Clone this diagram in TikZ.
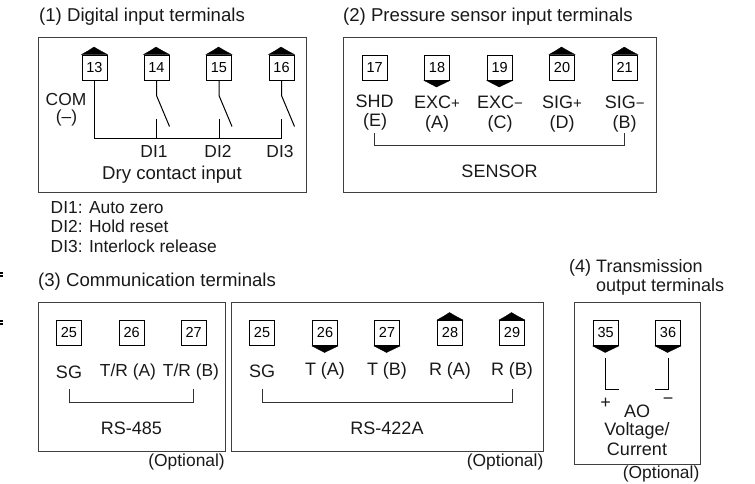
\documentclass[tikz,border=0pt]{standalone}
\usepackage{fontspec}
\setmainfont{Liberation Sans}
\newcommand{\smsign}[1]{{\fontsize{15}{16}\selectfont #1}}
\tikzset{
  frame/.style={draw=black!75,line width=0.9pt,fill=none},
  term/.style={draw=black,line width=1pt,minimum width=25pt,minimum height=25pt,inner sep=0pt,text height=10.5pt,text depth=1pt,font=\fontsize{14.5}{16}\selectfont,fill=white},
  lbl/.style={inner sep=0pt,font=\fontsize{18}{20}\selectfont,text=black!90},
  ttl/.style={lbl,font=\fontsize{18.6}{20}\selectfont},
  note/.style={lbl,font=\fontsize{17.4}{20}\selectfont},
  dilbl/.style={note,text height=13pt,text depth=0pt},
  wire/.style={draw=black,line width=1pt},
  thin wire/.style={draw=black!80,line width=0.8pt},
  edgemark/.style={draw=black,line width=1.4pt},
  arrowcap/.style={fill=black,draw=black,line width=0.3pt}
}
\newcommand{\roofcap}[1]{\fill[arrowcap] (#1.north west) -- ++(7,-4) -- ++(5.5,-3.5) -- ++(6,3.5) -- (#1.north east) -- cycle;}
\newcommand{\dropcap}[1]{\fill[arrowcap] (#1.south west) -- ++(12.5,6.5) -- (#1.south east) -- cycle;}
\begin{document}
\begin{tikzpicture}[x=1pt,y=-1pt]
\useasboundingbox (0,0) rectangle (755,483);
% frames
\node[frame,minimum width=268pt,minimum height=155pt,inner sep=0pt] (b1) at (172,114.5) {};
\node[frame,minimum width=312.5pt,minimum height=155pt,inner sep=0pt] (b2) at (499.75,114.5) {};
\node[frame,minimum width=187pt,minimum height=149.5pt,inner sep=0pt] (b3) at (131.5,376.75) {};
\node[frame,minimum width=312pt,minimum height=149.5pt,inner sep=0pt] (b4) at (387.6,376.75) {};
\node[frame,minimum width=126pt,minimum height=162pt,inner sep=0pt] (b5) at (637,383) {};
% titles
\node[ttl,anchor=west] (t1) at (39,16.5) {(1) Digital input terminals};
\node[ttl,anchor=west] (t2) at (343,16.5) {(2) Pressure sensor input terminals};
\node[ttl,anchor=west] (t3) at (38,282) {(3) Communication terminals};
\node[lbl,anchor=west] (t4a) at (569,268) {(4) Transmission};
\node[lbl,anchor=west] (t4b) at (596,287) {output terminals};
% block 1
\foreach \n/\x in {13/94.5,14/156.5,15/219,16/281.5}{
  \node[term] (T\n) at (\x,67.5) {\n};
  \roofcap{T\n}
}
\node[note] (com) at (66,100) {COM};
\node[note] (comm) at (66.5,118) {(–)};
\coordinate (j1) at (94.5,138);
\coordinate (j2) at (156.5,138);
\coordinate (j3) at (219,138);
\coordinate (j4) at (281.5,138);
\draw[wire] (T13.south) -- (j1) -- (j4);
\foreach \t/\j in {14/j2,15/j3,16/j4}{
  \coordinate (k\t) at ([yshift=-15pt]T\t.south);
  \coordinate (e\t) at ([xshift=13pt,yshift=-46pt]T\t.south);
  \draw[wire] (T\t.south) -- (k\t) -- (e\t);
  \draw[wire] (\j) -- ++(0,-19);
}
\node[dilbl] (d1) at (154,151) {DI1};
\node[dilbl] (d2) at (218,151) {DI2};
\node[dilbl] (d3) at (280,151) {DI3};
\node[ttl] (dry) at (172,175) {Dry contact input};
\node[note,anchor=west] (n1) at (50.5,207.5) {DI1: Auto zero};
\node[note,anchor=west] (n2) at (50.5,226.5) {DI2: Hold reset};
\node[note,anchor=west] (n3) at (50.5,246) {DI3: Interlock release};
% block 2
\node[term] (T17) at (374.7,67.5) {17};
\node[term] (T18) at (437,67.5) {18}; \dropcap{T18}
\node[term] (T19) at (499.7,67.5) {19}; \dropcap{T19}
\node[term] (T20) at (562,67.5) {20}; \roofcap{T20}
\node[term] (T21) at (624.7,67.5) {21}; \roofcap{T21}
\node[lbl] (s1) at (374.7,101.5) {SHD};
\node[lbl] (s2) at (437,102.5) {EXC\smsign{+}};
\node[lbl] (s3) at (500,102.5) {EXC\smsign{−}};
\node[lbl] (s4) at (562,102.5) {SIG\smsign{+}};
\node[lbl] (s5) at (624.7,102.5) {SIG\smsign{−}};
\node[lbl] (p1) at (375,122) {(E)};
\node[lbl] (p2) at (437,124) {(A)};
\node[lbl] (p3) at (500,124) {(C)};
\node[lbl] (p4) at (562,124) {(D)};
\node[lbl] (p5) at (624.7,124) {(B)};
\coordinate (c1) at (374.7,133);
\coordinate (c2) at (624.7,133);
\draw[thin wire] (c1) -- ++(0,12) -| (c2);
\node[lbl] (sens) at (499.5,171) {SENSOR};
% block 3
\node[term] (A25) at (69,333) {25};
\node[term] (A26) at (131.7,333) {26};
\node[term] (A27) at (193.7,333) {27};
\node[lbl] (a1) at (69,372) {SG};
\node[note] (a2) at (128,372) {T/R (A)};
\node[note] (a3) at (191,372) {T/R (B)};
\coordinate (c3) at (69,389);
\coordinate (c4) at (193.7,389);
\draw[thin wire] (c3) -- ++(0,13) -| (c4);
\node[lbl] (rs1) at (131.5,428) {RS-485};
\node[note,anchor=east] (o1) at (225,462) {(Optional)};
% block 4
\node[term] (B25) at (262,333) {25};
\node[term] (B26) at (325,333) {26}; \dropcap{B26}
\node[term] (B27) at (387,333) {27}; \dropcap{B27}
\node[term] (B28) at (450,333) {28}; \roofcap{B28}
\node[term] (B29) at (512,333) {29}; \roofcap{B29}
\node[lbl] (r1) at (262,371) {SG};
\node[lbl] (r2) at (325,371) {T (A)};
\node[lbl] (r3) at (387,371) {T (B)};
\node[lbl] (r4) at (450,371) {R (A)};
\node[lbl] (r5) at (512,371) {R (B)};
\coordinate (c5) at (262,389);
\coordinate (c6) at (512,389);
\draw[thin wire] (c5) -- ++(0,13) -| (c6);
\node[lbl] (rs2) at (387,428) {RS-422A};
\node[note,anchor=east] (o2) at (543.5,462) {(Optional)};
% block 5
\node[term] (C35) at (605.7,333) {35}; \dropcap{C35}
\node[term] (C36) at (668,333) {36}; \dropcap{C36}
\coordinate (u1) at (605.7,358);
\coordinate (u2) at (605.7,389);
\coordinate (u3) at (619,389);
\coordinate (v1) at (668,358);
\coordinate (v2) at (668,389);
\coordinate (v3) at (655,389);
\draw[wire] (u1) -- (u2) -- (u3);
\draw[wire] (v1) -- (v2) -- (v3);
\node[lbl] (plus) at (605.5,403) {+};
\node[lbl] (minus) at (668,401) {−};
\node[lbl] (ao) at (637,411) {AO};
\node[lbl] (vo) at (637,430.5) {Voltage/};
\node[lbl] (cu) at (637,449) {Current};
\node[note,anchor=east] (o3) at (699.5,473.5) {(Optional)};
% edge marks
\coordinate (m1) at (0,273); \coordinate (m2) at (3,273);
\coordinate (m3) at (0,276); \coordinate (m4) at (3,276);
\coordinate (m5) at (0,321); \coordinate (m6) at (3,321);
\coordinate (m7) at (0,324); \coordinate (m8) at (3,324);
\draw[edgemark] (m1) -- (m2) (m3) -- (m4) (m5) -- (m6) (m7) -- (m8);
\end{tikzpicture}
\end{document}
